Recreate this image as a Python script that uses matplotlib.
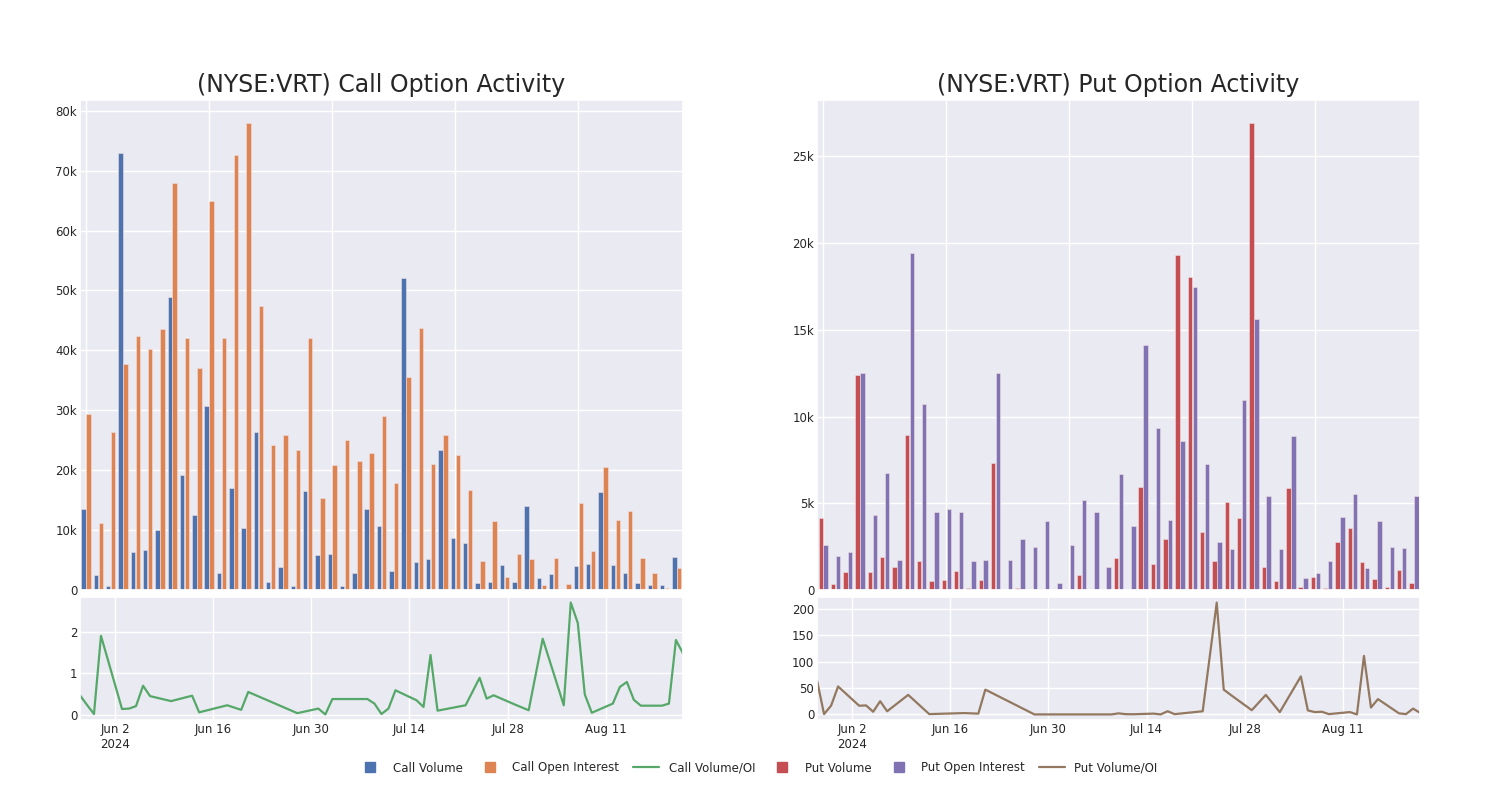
import numpy as np
import pandas as pd
import matplotlib
matplotlib.use('Agg')
import matplotlib.pyplot as plt
import matplotlib.ticker as mticker
from matplotlib.lines import Line2D
import seaborn as sns

# trading days present in the data
dates = ['2024-05-28', '2024-05-29', '2024-05-30', '2024-05-31', '2024-06-03', '2024-06-04', '2024-06-05',
         '2024-06-06', '2024-06-07', '2024-06-10', '2024-06-13', '2024-06-14', '2024-06-18', '2024-06-20',
         '2024-06-21', '2024-06-28', '2024-07-01', '2024-07-02', '2024-07-03', '2024-07-08', '2024-07-09',
         '2024-07-10', '2024-07-11', '2024-07-12', '2024-07-15', '2024-07-16', '2024-07-17', '2024-07-18',
         '2024-07-22', '2024-07-24', '2024-07-25', '2024-07-26', '2024-07-29', '2024-07-31', '2024-08-02',
         '2024-08-05', '2024-08-06', '2024-08-07', '2024-08-08', '2024-08-09', '2024-08-12', '2024-08-13',
         '2024-08-14', '2024-08-15', '2024-08-16', '2024-08-19', '2024-08-20', '2024-08-21', '2024-08-22']

call_volume = [13600, 2450, 720, 72900, 6350, 6600, 10000, 48900, 19200, 12500,
               30700, 2900, 17100, 10400, 26300, 1300, 3850, 600, 16600, 5850,
               5960, 670, 2900, 13500, 10600, 3100, 52000, 4600, 5100, 23300,
               8750, 7860, 1200, 1300, 4200, 1300, 14100, 1950, 2700, 50,
               4000, 4350, 16300, 4200, 2900, 1100, 780, 780, 5500]
call_oi = [29300, 11200, 26400, 37800, 42400, 40200, 43500, 67900, 42000, 37000,
           64900, 42000, 72600, 77900, 47400, 24200, 25800, 23400, 42100, 15400,
           20800, 25000, 21500, 22800, 29000, 17900, 35600, 43800, 21000, 25800,
           22500, 16700, 4800, 11500, 2200, 6000, 5100, 840, 5350, 1000,
           14500, 6500, 20600, 11650, 13200, 5400, 2900, 400, 3700]
call_ratio = [0.47, 0.24, 0.02, 1.90, 0.14, 0.15, 0.21, 0.70, 0.45, 0.33,
              0.46, 0.06, 0.23, 0.12, 0.55, 0.04, 0.15, 0.01, 0.38, 0.38,
              0.27, 0.02, 0.15, 0.59, 0.35, 0.19, 1.44, 0.10, 0.23, 0.89,
              0.39, 0.47, 0.25, 0.11, 1.83, 0.23, 2.70, 2.21, 0.49, 0.05,
              0.27, 0.67, 0.79, 0.36, 0.22, 0.22, 0.27, 1.80, 1.48]

put_volume = [4170, 370, 1060, 12420, 1040, 1880, 1310, 8920, 1650, 540,
              600, 1120, 120, 600, 7310, 20, 120, 0, 80, 40,
              20, 880, 0, 50, 1830, 20, 5940, 1500, 2920, 19310,
              18060, 3370, 1690, 5080, 4130, 26900, 1330, 500, 5870, 170,
              770, 100, 2770, 3580, 1630, 620, 170, 1130, 420]
put_oi = [2600, 1960, 2190, 12480, 4330, 6770, 1710, 19440, 10750, 4520,
          4650, 4520, 1670, 1710, 12480, 1710, 2940, 2480, 4000, 400,
          2600, 5210, 4480, 1330, 6690, 3690, 14150, 9310, 4020, 8560,
          17480, 7290, 2770, 2370, 10960, 15650, 5420, 2370, 8880, 690,
          1000, 1650, 4190, 5540, 1250, 4000, 2460, 2420, 5440]
put_ratio = [64, 0.6, 16.5, 53, 16.5, 17, 5, 25, 6, 37,
             0.6, 1, 2.5, 1.5, 47, 0, 0, 0, 0, 0,
             0, 2, 0.5, 0.3, 1.5, 0, 6, 0.5, 6, 212,
             47, 37, 8, 37, 4.4, 72, 7.6, 4.4, 5, 0.6,
             4.4, 0, 111, 13, 29, 2, 0.6, 11, 3]

tick_dates = ['2024-06-02', '2024-06-16', '2024-06-30', '2024-07-14', '2024-07-28', '2024-08-11']
tick_labels = ['Jun 2\n2024', 'Jun 16', 'Jun 30', 'Jul 14', 'Jul 28', 'Aug 11']

sns.set_theme(style='darkgrid')
plt.rcParams['font.family'] = ['DejaVu Sans']
pal = sns.color_palette('deep')
c_blue, c_orange, c_green, c_red, c_purple, c_brown = pal[0], pal[1], pal[2], pal[3], pal[4], pal[5]

dt = pd.to_datetime(dates)
x = np.arange(len(dates))
w = 0.36


def kfmt(v, pos):
    if v == 0:
        return '0'
    return f'{int(round(v / 1000))}k'


fig = plt.figure(figsize=(15, 8), dpi=100)

panels = [
    (0.0533, '(NYSE:VRT) Call Option Activity', call_volume, call_oi, call_ratio,
     c_blue, c_orange, c_green, 10000, [0, 1, 2]),
    (0.5447, '(NYSE:VRT) Put Option Activity', put_volume, put_oi, put_ratio,
     c_red, c_purple, c_brown, 5000, [0, 50, 100, 150, 200]),
]

for left, title, vol, oi, ratio, cv, co, cl, step, rticks in panels:
    ax = fig.add_axes([left, 0.2625, 0.402, 0.6125])
    ax.bar(x - w / 2 - 0.02, vol, width=w, color=cv, edgecolor='#f0e0e0', linewidth=0.4)
    ax.bar(x + w / 2 + 0.02, oi, width=w, color=co, edgecolor='#f0e0e0', linewidth=0.4)
    ax.set_xlim(-0.5, len(x) - 0.5)
    top = max(max(vol), max(oi)) * 1.05
    ax.set_ylim(0, top)
    ax.set_xticks(np.arange(0, len(x), 10))
    ax.set_xticklabels([])
    ax.yaxis.set_major_locator(mticker.MultipleLocator(step))
    ax.yaxis.set_major_formatter(mticker.FuncFormatter(kfmt))
    ax.tick_params(axis='both', length=0, labelsize=8.5, pad=2, colors='#262626')
    ax.set_title(title, fontsize=17, color='#262626', pad=6)

    ax2 = fig.add_axes([left, 0.1, 0.402, 0.15375])
    ax2.plot(dt, ratio, color=cl, linewidth=1.6)
    ax2.set_xlim(dt[0], dt[-1])
    ax2.set_yticks(rticks)
    ax2.set_xticks(pd.to_datetime(tick_dates))
    ax2.set_xticklabels(tick_labels)
    ax2.tick_params(length=0, labelsize=8.5, pad=2, colors='#262626')

handles = [
    Line2D([], [], marker='s', linestyle='none', color=c_blue, markersize=7),
    Line2D([], [], marker='s', linestyle='none', color=c_orange, markersize=7),
    Line2D([], [], color=c_green, linewidth=1.6),
    Line2D([], [], marker='s', linestyle='none', color=c_red, markersize=7),
    Line2D([], [], marker='s', linestyle='none', color=c_purple, markersize=7),
    Line2D([], [], color=c_brown, linewidth=1.6),
]
labels = ['Call Volume', 'Call Open Interest', 'Call Volume/OI',
          'Put Volume', 'Put Open Interest', 'Put Volume/OI']
fig.legend(handles, labels, loc='center', bbox_to_anchor=(0.505, 0.04), ncol=6,
           frameon=False, fontsize=8.5, handlelength=2.2, handletextpad=0.8, columnspacing=1.2)

fig.savefig('out.png', dpi=100)
